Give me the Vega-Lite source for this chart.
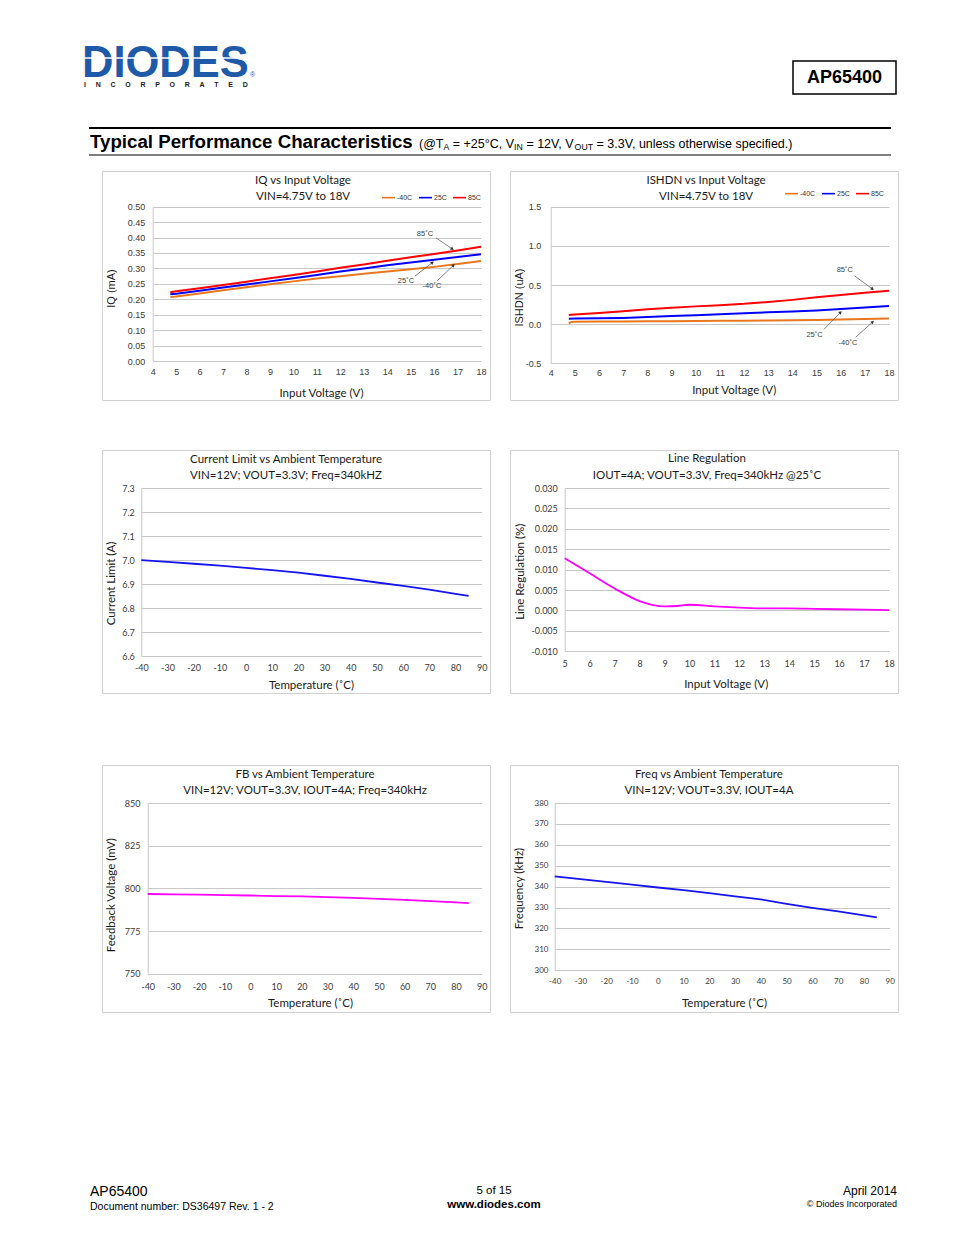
{
  "$schema": "https://vega.github.io/schema/vega-lite/v6.json",
  "padding": 0,
  "background": "white",
  "columns": 3,
  "spacing": {"row": 0, "column": 20},
  "bounds": "flush",
  "align": "each",
  "resolve": {"scale": {"color": "independent"}, "legend": {"color": "independent"}},
  "datasets": {"empty": []},
  "config": {
    "view": {"stroke": null},
    "font": "Lato",
    "locale": {"number": {"decimal": ".", "thousands": ",", "grouping": [3], "currency": ["$", ""], "minus": "-"}},
    "axis": {"domain": false, "ticks": false, "tickSize": 0, "grid": false, "labelColor": "#3a3a3a", "titleColor": "#1a1a1a", "labelFont": "Lato", "titleFont": "Lato", "titleFontWeight": "normal", "labelFontSize": 9, "titleFontSize": 11.5, "labelFlush": false, "labelOverlap": false, "labelBound": false, "gridColor": "#c8c8c8", "domainColor": "#c8c8c8", "titleBaseline": "middle", "titleAlign": "center"},
    "title": {"font": "Lato", "fontWeight": "normal", "fontSize": 11.5, "color": "#1a1a1a", "anchor": "middle", "frame": "group", "lineHeight": 15.5, "offset": -31},
    "legend": {"orient": "none", "direction": "horizontal", "title": null, "symbolType": "stroke", "symbolSize": 170, "symbolStrokeWidth": 1.6, "labelFont": "Liberation Sans", "labelFontSize": 7, "labelColor": "#333333", "labelOffset": 1, "columnPadding": 2, "padding": 0}
  },
  "concat": [
    {
      "width": 82,
      "height": 171,
      "layer": [
        {"data": {"values": [{"label": "DIODES"}]}, "mark": {"type": "text", "font": "Liberation Sans", "fontWeight": "bold", "fontSize": 43.5, "color": "#1e5aa8", "align": "left", "baseline": "alphabetic"}, "encoding": {"text": {"field": "label"}, "x": {"value": 82}, "y": {"value": 76.5}}},
        {"data": {"values": [{"label": "logo stripe"}]}, "mark": {"type": "rule", "stroke": "#ffffff", "strokeWidth": 1.3}, "encoding": {"x": {"value": 84}, "x2": {"value": 246}, "y": {"value": 58}}},
        {"data": {"values": [{"label": "I\u00a0\u00a0\u00a0\u00a0\u00a0N\u00a0\u00a0\u00a0\u00a0\u00a0C\u00a0\u00a0\u00a0\u00a0\u00a0O\u00a0\u00a0\u00a0\u00a0\u00a0R\u00a0\u00a0\u00a0\u00a0\u00a0P\u00a0\u00a0\u00a0\u00a0\u00a0O\u00a0\u00a0\u00a0\u00a0\u00a0R\u00a0\u00a0\u00a0\u00a0\u00a0A\u00a0\u00a0\u00a0\u00a0\u00a0T\u00a0\u00a0\u00a0\u00a0\u00a0E\u00a0\u00a0\u00a0\u00a0\u00a0D"}]}, "mark": {"type": "text", "font": "Liberation Sans", "fontWeight": "bold", "fontSize": 7, "color": "#1a1a1a", "align": "left", "baseline": "alphabetic"}, "encoding": {"text": {"field": "label"}, "x": {"value": 84}, "y": {"value": 86.5}}},
        {"data": {"values": [{"label": "®"}]}, "mark": {"type": "text", "font": "Liberation Sans", "fontSize": 7, "color": "#1e5aa8", "align": "left", "baseline": "alphabetic"}, "encoding": {"text": {"field": "label"}, "x": {"value": 250}, "y": {"value": 77}}},
        {"data": {"values": [{"label": "box"}]}, "mark": {"type": "rect", "fill": null, "stroke": "#000000", "strokeWidth": 1.5}, "encoding": {"x": {"value": 793}, "x2": {"value": 896}, "y": {"value": 61}, "y2": {"value": 94}}},
        {"data": {"values": [{"label": "AP65400"}]}, "mark": {"type": "text", "font": "Liberation Sans", "fontWeight": "bold", "fontSize": 18, "color": "#000000", "align": "center", "baseline": "middle"}, "encoding": {"text": {"field": "label"}, "x": {"value": 844.5}, "y": {"value": 78}}},
        {"data": {"values": [{"label": "top rule"}]}, "mark": {"type": "rule", "stroke": "#000000", "strokeWidth": 2}, "encoding": {"x": {"value": 89}, "x2": {"value": 891}, "y": {"value": 128}}},
        {"data": {"values": [{"label": "Typical Performance Characteristics"}]}, "mark": {"type": "text", "font": "Liberation Sans", "fontWeight": "bold", "fontSize": 18.7, "color": "#000000", "align": "left", "baseline": "alphabetic"}, "encoding": {"text": {"field": "label"}, "x": {"value": 90}, "y": {"value": 148}}},
        {"data": {"values": [{"label": "(@T"}]}, "mark": {"type": "text", "font": "Liberation Sans", "fontSize": 12.5, "color": "#000000", "align": "left", "baseline": "alphabetic"}, "encoding": {"text": {"field": "label"}, "x": {"value": 419}, "y": {"value": 148}}},
        {"data": {"values": [{"label": "A"}]}, "mark": {"type": "text", "font": "Liberation Sans", "fontSize": 8.75, "color": "#000000", "align": "left", "baseline": "alphabetic"}, "encoding": {"text": {"field": "label"}, "x": {"value": 443.5}, "y": {"value": 150}}},
        {"data": {"values": [{"label": "= +25°C, V"}]}, "mark": {"type": "text", "font": "Liberation Sans", "fontSize": 12.5, "color": "#000000", "align": "left", "baseline": "alphabetic"}, "encoding": {"text": {"field": "label"}, "x": {"value": 452.8}, "y": {"value": 148}}},
        {"data": {"values": [{"label": "IN"}]}, "mark": {"type": "text", "font": "Liberation Sans", "fontSize": 8.75, "color": "#000000", "align": "left", "baseline": "alphabetic"}, "encoding": {"text": {"field": "label"}, "x": {"value": 514.1}, "y": {"value": 150}}},
        {"data": {"values": [{"label": "= 12V, V"}]}, "mark": {"type": "text", "font": "Liberation Sans", "fontSize": 12.5, "color": "#000000", "align": "left", "baseline": "alphabetic"}, "encoding": {"text": {"field": "label"}, "x": {"value": 526.4}, "y": {"value": 148}}},
        {"data": {"values": [{"label": "OUT"}]}, "mark": {"type": "text", "font": "Liberation Sans", "fontSize": 8.75, "color": "#000000", "align": "left", "baseline": "alphabetic"}, "encoding": {"text": {"field": "label"}, "x": {"value": 574.6}, "y": {"value": 150}}},
        {"data": {"values": [{"label": "= 3.3V, unless otherwise specified.)"}]}, "mark": {"type": "text", "font": "Liberation Sans", "fontSize": 12.5, "color": "#000000", "align": "left", "baseline": "alphabetic"}, "encoding": {"text": {"field": "label"}, "x": {"value": 596.6}, "y": {"value": 148}}},
        {"data": {"values": [{"label": "bottom rule"}]}, "mark": {"type": "rule", "stroke": "#000000", "strokeWidth": 1}, "encoding": {"x": {"value": 89}, "x2": {"value": 891}, "y": {"value": 155}}}
      ]
    },
    {"width": 1, "height": 1, "data": {"name": "empty"}, "mark": {"type": "text"}, "encoding": {"text": {"field": "label"}}},
    {"width": 1, "height": 1, "data": {"name": "empty"}, "mark": {"type": "text"}, "encoding": {"text": {"field": "label"}}},

    {"width": 82, "height": 1, "data": {"name": "empty"}, "mark": {"type": "text"}, "encoding": {"text": {"field": "label"}}},
    {
      "width": 388,
      "height": 229,
      "view": {"stroke": "#d0d0d0", "fill": "white"},
      "title": {"text": ["IQ vs Input Voltage", "VIN=4.75V to 18V"], "dx": 7},
      "encoding": {
        "x": {"field": "v", "type": "quantitative", "scale": {"domain": [4, 18], "range": [50.7, 379], "nice": false, "zero": false},
          "axis": {"values": [4, 5, 6, 7, 8, 9, 10, 11, 12, 13, 14, 15, 16, 17, 18], "title": "Input Voltage (V)", "offset": -38, "labelFont": "Liberation Sans", "labelFontSize": 9, "labelPadding": 5.5, "titleX": 219, "titleY": 31}},
        "y": {"field": "iq", "type": "quantitative", "scale": {"domain": [0, 0.5], "range": [190, 35.7], "nice": false, "zero": false},
          "axis": {"values": [0, 0.05, 0.1, 0.15, 0.2, 0.25, 0.3, 0.35, 0.4, 0.45, 0.5], "format": ".2f", "title": "IQ (mA)", "offset": -50.7, "grid": true, "domain": true, "labelFont": "Liberation Sans", "labelFontSize": 9, "labelPadding": 8, "titleFont": "Liberation Sans", "titleFontSize": 11, "titleX": -41, "titleY": 117}}
      },
      "layer": [
        {
          "data": {"values": [
            {"t": "-40C", "v": 4.75, "iq": 0.207}, {"t": "-40C", "v": 5, "iq": 0.209}, {"t": "-40C", "v": 6, "iq": 0.219}, {"t": "-40C", "v": 7, "iq": 0.229}, {"t": "-40C", "v": 8, "iq": 0.239}, {"t": "-40C", "v": 9, "iq": 0.249}, {"t": "-40C", "v": 10, "iq": 0.258}, {"t": "-40C", "v": 11, "iq": 0.267}, {"t": "-40C", "v": 12, "iq": 0.275}, {"t": "-40C", "v": 13, "iq": 0.283}, {"t": "-40C", "v": 14, "iq": 0.290}, {"t": "-40C", "v": 15, "iq": 0.297}, {"t": "-40C", "v": 16, "iq": 0.305}, {"t": "-40C", "v": 17, "iq": 0.314}, {"t": "-40C", "v": 18, "iq": 0.324},
            {"t": "25C", "v": 4.75, "iq": 0.216}, {"t": "25C", "v": 5, "iq": 0.218}, {"t": "25C", "v": 6, "iq": 0.228}, {"t": "25C", "v": 7, "iq": 0.238}, {"t": "25C", "v": 8, "iq": 0.248}, {"t": "25C", "v": 9, "iq": 0.258}, {"t": "25C", "v": 10, "iq": 0.268}, {"t": "25C", "v": 11, "iq": 0.279}, {"t": "25C", "v": 12, "iq": 0.290}, {"t": "25C", "v": 13, "iq": 0.300}, {"t": "25C", "v": 14, "iq": 0.310}, {"t": "25C", "v": 15, "iq": 0.319}, {"t": "25C", "v": 16, "iq": 0.328}, {"t": "25C", "v": 17, "iq": 0.337}, {"t": "25C", "v": 18, "iq": 0.346},
            {"t": "85C", "v": 4.75, "iq": 0.223}, {"t": "85C", "v": 5, "iq": 0.226}, {"t": "85C", "v": 6, "iq": 0.236}, {"t": "85C", "v": 7, "iq": 0.246}, {"t": "85C", "v": 8, "iq": 0.257}, {"t": "85C", "v": 9, "iq": 0.268}, {"t": "85C", "v": 10, "iq": 0.279}, {"t": "85C", "v": 11, "iq": 0.290}, {"t": "85C", "v": 12, "iq": 0.302}, {"t": "85C", "v": 13, "iq": 0.313}, {"t": "85C", "v": 14, "iq": 0.325}, {"t": "85C", "v": 15, "iq": 0.336}, {"t": "85C", "v": 16, "iq": 0.347}, {"t": "85C", "v": 17, "iq": 0.358}, {"t": "85C", "v": 18, "iq": 0.370}
          ]},
          "mark": {"type": "line", "strokeWidth": 2},
          "encoding": {
            "color": {"field": "t", "type": "nominal", "scale": {"domain": ["-40C", "25C", "85C"], "range": ["#E8771E", "#0000FF", "#FF0000"]}, "legend": {"legendX": 279, "legendY": 19}}
          }
        },
        {
          "data": {"values": [{"v": 15.61, "iq": 0.412, "label": "85˚C"}, {"v": 14.80, "iq": 0.259, "label": "25˚C"}, {"v": 15.91, "iq": 0.243, "label": "-40˚C"}]},
          "mark": {"type": "text", "font": "Liberation Sans", "fontSize": 7.5, "color": "#404040", "align": "center", "baseline": "middle"},
          "encoding": {"text": {"field": "label"}}
        },
        {
          "data": {"values": [{"v": 16.08, "iq": 0.399, "v2": 16.76, "iq2": 0.364}, {"v": 15.18, "iq": 0.275, "v2": 15.91, "iq2": 0.318}, {"v": 16.12, "iq": 0.259, "v2": 16.81, "iq2": 0.309}]},
          "mark": {"type": "rule", "stroke": "#505050", "strokeWidth": 0.7},
          "encoding": {"x2": {"field": "v2"}, "y2": {"field": "iq2"}}
        },
        {
          "data": {"values": [{"v": 16.76, "iq": 0.364}]},
          "mark": {"type": "point", "shape": "triangle", "filled": true, "size": 14, "angle": 125, "color": "#303030", "opacity": 1}
        },
        {
          "data": {"values": [{"v": 15.91, "iq": 0.318}, {"v": 16.81, "iq": 0.309}]},
          "mark": {"type": "point", "shape": "triangle", "filled": true, "size": 14, "angle": 52, "color": "#303030", "opacity": 1}
        }
      ]
    },
    {
      "width": 388,
      "height": 229,
      "view": {"stroke": "#d0d0d0", "fill": "white"},
      "title": {"text": ["ISHDN vs Input Voltage", "VIN=4.75V to 18V"], "dx": 2},
      "encoding": {
        "x": {"field": "v", "type": "quantitative", "scale": {"domain": [4, 18], "range": [40.7, 379], "nice": false, "zero": false},
          "axis": {"values": [4, 5, 6, 7, 8, 9, 10, 11, 12, 13, 14, 15, 16, 17, 18], "title": "Input Voltage (V)", "offset": -36.7, "labelFont": "Liberation Sans", "labelFontSize": 9, "labelPadding": 5.5, "titleX": 223.7, "titleY": 27.4}},
        "y": {"field": "i", "type": "quantitative", "scale": {"domain": [-0.5, 1.5], "range": [192.3, 35.7], "nice": false, "zero": false},
          "axis": {"values": [-0.5, 0, 0.5, 1, 1.5], "format": ".1f", "title": "ISHDN (uA)", "offset": -40.7, "grid": true, "domain": true, "labelFont": "Liberation Sans", "labelFontSize": 9, "labelPadding": 10, "titleFont": "Liberation Sans", "titleFontSize": 11, "titleX": -31, "titleY": 126}}
      },
      "layer": [
        {
          "data": {"values": [
            {"t": "-40C", "v": 4.75, "i": 0.01}, {"t": "-40C", "v": 4.85, "i": 0.028}, {"t": "-40C", "v": 5, "i": 0.032}, {"t": "-40C", "v": 6, "i": 0.033}, {"t": "-40C", "v": 7, "i": 0.034}, {"t": "-40C", "v": 8, "i": 0.036}, {"t": "-40C", "v": 9, "i": 0.038}, {"t": "-40C", "v": 10, "i": 0.040}, {"t": "-40C", "v": 11, "i": 0.042}, {"t": "-40C", "v": 12, "i": 0.045}, {"t": "-40C", "v": 13, "i": 0.047}, {"t": "-40C", "v": 14, "i": 0.050}, {"t": "-40C", "v": 15, "i": 0.053}, {"t": "-40C", "v": 16, "i": 0.058}, {"t": "-40C", "v": 17, "i": 0.065}, {"t": "-40C", "v": 18, "i": 0.072},
            {"t": "25C", "v": 4.75, "i": 0.070}, {"t": "25C", "v": 5, "i": 0.072}, {"t": "25C", "v": 6, "i": 0.075}, {"t": "25C", "v": 7, "i": 0.080}, {"t": "25C", "v": 8, "i": 0.090}, {"t": "25C", "v": 9, "i": 0.103}, {"t": "25C", "v": 10, "i": 0.115}, {"t": "25C", "v": 11, "i": 0.127}, {"t": "25C", "v": 12, "i": 0.140}, {"t": "25C", "v": 13, "i": 0.152}, {"t": "25C", "v": 14, "i": 0.163}, {"t": "25C", "v": 15, "i": 0.175}, {"t": "25C", "v": 16, "i": 0.193}, {"t": "25C", "v": 17, "i": 0.212}, {"t": "25C", "v": 18, "i": 0.232},
            {"t": "85C", "v": 4.75, "i": 0.117}, {"t": "85C", "v": 5, "i": 0.122}, {"t": "85C", "v": 6, "i": 0.143}, {"t": "85C", "v": 7, "i": 0.165}, {"t": "85C", "v": 8, "i": 0.190}, {"t": "85C", "v": 9, "i": 0.210}, {"t": "85C", "v": 10, "i": 0.227}, {"t": "85C", "v": 11, "i": 0.242}, {"t": "85C", "v": 12, "i": 0.259}, {"t": "85C", "v": 13, "i": 0.283}, {"t": "85C", "v": 14, "i": 0.310}, {"t": "85C", "v": 15, "i": 0.343}, {"t": "85C", "v": 16, "i": 0.372}, {"t": "85C", "v": 17, "i": 0.400}, {"t": "85C", "v": 18, "i": 0.428}
          ]},
          "mark": {"type": "line", "strokeWidth": 2},
          "encoding": {
            "color": {"field": "t", "type": "nominal", "scale": {"domain": ["-40C", "25C", "85C"], "range": ["#E8771E", "#0000FF", "#FF0000"]}, "legend": {"legendX": 274, "legendY": 15}}
          }
        },
        {
          "data": {"values": [{"v": 16.17, "i": 0.692, "label": "85˚C"}, {"v": 14.92, "i": -0.139, "label": "25˚C"}, {"v": 16.30, "i": -0.245, "label": "-40˚C"}]},
          "mark": {"type": "text", "font": "Liberation Sans", "fontSize": 7.5, "color": "#404040", "align": "center", "baseline": "middle"},
          "encoding": {"text": {"field": "label"}}
        },
        {
          "data": {"values": [{"v": 16.58, "i": 0.615, "v2": 17.30, "i2": 0.453}, {"v": 15.31, "i": -0.066, "v2": 15.98, "i2": 0.146}, {"v": 16.62, "i": -0.168, "v2": 17.31, "i2": 0.024}]},
          "mark": {"type": "rule", "stroke": "#505050", "strokeWidth": 0.7},
          "encoding": {"x2": {"field": "v2"}, "y2": {"field": "i2"}}
        },
        {
          "data": {"values": [{"v": 17.30, "i": 0.453}]},
          "mark": {"type": "point", "shape": "triangle", "filled": true, "size": 14, "angle": 126, "color": "#303030", "opacity": 1}
        },
        {
          "data": {"values": [{"v": 15.98, "i": 0.146}, {"v": 17.31, "i": 0.024}]},
          "mark": {"type": "point", "shape": "triangle", "filled": true, "size": 14, "angle": 46, "color": "#303030", "opacity": 1}
        }
      ]
    },

    {"width": 82, "height": 50, "data": {"name": "empty"}, "mark": {"type": "text"}, "encoding": {"text": {"field": "label"}}},
    {"width": 1, "height": 1, "data": {"name": "empty"}, "mark": {"type": "text"}, "encoding": {"text": {"field": "label"}}},
    {"width": 1, "height": 1, "data": {"name": "empty"}, "mark": {"type": "text"}, "encoding": {"text": {"field": "label"}}},

    {"width": 82, "height": 1, "data": {"name": "empty"}, "mark": {"type": "text"}, "encoding": {"text": {"field": "label"}}},
    {
      "width": 388,
      "height": 243,
      "view": {"stroke": "#d0d0d0", "fill": "white"},
      "title": {"text": ["Current Limit vs Ambient Temperature", "VIN=12V; VOUT=3.3V; Freq=340kHZ"], "dx": -10},
      "data": {"values": [
        {"temp": -40, "a": 7.0}, {"temp": -30, "a": 6.993}, {"temp": -20, "a": 6.985}, {"temp": -10, "a": 6.977}, {"temp": 0, "a": 6.968}, {"temp": 10, "a": 6.958}, {"temp": 20, "a": 6.948}, {"temp": 30, "a": 6.935}, {"temp": 40, "a": 6.922}, {"temp": 50, "a": 6.907}, {"temp": 60, "a": 6.893}, {"temp": 70, "a": 6.877}, {"temp": 80, "a": 6.860}, {"temp": 85, "a": 6.851}
      ]},
      "mark": {"type": "line", "strokeWidth": 1.8, "color": "#1414F0"},
      "encoding": {
        "x": {"field": "temp", "type": "quantitative", "scale": {"domain": [-40, 90], "range": [39.3, 379.7], "nice": false, "zero": false},
          "axis": {"values": [-40, -30, -20, -10, 0, 10, 20, 30, 40, 50, 60, 70, 80, 90], "title": "Temperature (˚C)", "offset": -36.7, "labelPadding": 7.5, "titleX": 209, "titleY": 29}},
        "y": {"field": "a", "type": "quantitative", "scale": {"domain": [6.6, 7.3], "range": [206.3, 38], "nice": false, "zero": false},
          "axis": {"values": [6.6, 6.7, 6.8, 6.9, 7.0, 7.1, 7.2, 7.3], "format": ".1f", "title": "Current Limit (A)", "offset": -39.3, "grid": true, "domain": true, "labelPadding": 7, "titleX": -30.3, "titleY": 133}}
      }
    },
    {
      "width": 388,
      "height": 243,
      "view": {"stroke": "#d0d0d0", "fill": "white"},
      "title": {"text": ["Line Regulation", "IOUT=4A; VOUT=3.3V, Freq=340kHz @25˚C"], "dx": 3, "lineHeight": 17},
      "data": {"values": [
        {"v": 5, "lr": 0.0128}, {"v": 6, "lr": 0.0091}, {"v": 7, "lr": 0.0054}, {"v": 8, "lr": 0.0023}, {"v": 8.5, "lr": 0.0014}, {"v": 9, "lr": 0.0010}, {"v": 9.5, "lr": 0.0011}, {"v": 10, "lr": 0.0014}, {"v": 11, "lr": 0.0010}, {"v": 12, "lr": 0.0007}, {"v": 13, "lr": 0.0005}, {"v": 14, "lr": 0.0005}, {"v": 15, "lr": 0.0004}, {"v": 16, "lr": 0.0003}, {"v": 17, "lr": 0.0002}, {"v": 18, "lr": 0.0001}
      ]},
      "mark": {"type": "line", "strokeWidth": 1.8, "color": "#FF00FF", "interpolate": "monotone"},
      "encoding": {
        "x": {"field": "v", "type": "quantitative", "scale": {"domain": [5, 18], "range": [54.7, 379], "nice": false, "zero": false},
          "axis": {"values": [5, 6, 7, 8, 9, 10, 11, 12, 13, 14, 15, 16, 17, 18], "title": "Input Voltage (V)", "offset": -41.7, "labelPadding": 8.5, "titleX": 215.7, "titleY": 33.4}},
        "y": {"field": "lr", "type": "quantitative", "scale": {"domain": [-0.01, 0.03], "range": [201.3, 38], "nice": false, "zero": false},
          "axis": {"values": [-0.01, -0.005, 0, 0.005, 0.01, 0.015, 0.02, 0.025, 0.03], "format": ".3f", "title": "Line Regulation (%)", "offset": -54.7, "grid": true, "domain": true, "labelPadding": 7.4, "titleX": -44, "titleY": 121.3}}
      }
    },

    {"width": 82, "height": 72, "data": {"name": "empty"}, "mark": {"type": "text"}, "encoding": {"text": {"field": "label"}}},
    {"width": 1, "height": 1, "data": {"name": "empty"}, "mark": {"type": "text"}, "encoding": {"text": {"field": "label"}}},
    {"width": 1, "height": 1, "data": {"name": "empty"}, "mark": {"type": "text"}, "encoding": {"text": {"field": "label"}}},

    {"width": 82, "height": 1, "data": {"name": "empty"}, "mark": {"type": "text"}, "encoding": {"text": {"field": "label"}}},
    {
      "width": 388,
      "height": 247,
      "view": {"stroke": "#d0d0d0", "fill": "white"},
      "title": {"text": ["FB vs Ambient Temperature", "VIN=12V; VOUT=3.3V, IOUT=4A; Freq=340kHz"], "dx": 9},
      "data": {"values": [
        {"temp": -40, "mv": 796.7}, {"temp": -30, "mv": 796.5}, {"temp": -20, "mv": 796.3}, {"temp": -10, "mv": 796.0}, {"temp": 0, "mv": 795.8}, {"temp": 10, "mv": 795.5}, {"temp": 20, "mv": 795.3}, {"temp": 30, "mv": 794.9}, {"temp": 40, "mv": 794.4}, {"temp": 50, "mv": 793.8}, {"temp": 60, "mv": 793.2}, {"temp": 70, "mv": 792.5}, {"temp": 80, "mv": 791.8}, {"temp": 85, "mv": 791.4}
      ]},
      "mark": {"type": "line", "strokeWidth": 1.8, "color": "#FF00FF"},
      "encoding": {
        "x": {"field": "temp", "type": "quantitative", "scale": {"domain": [-40, 90], "range": [45.7, 379.7], "nice": false, "zero": false},
          "axis": {"values": [-40, -30, -20, -10, 0, 10, 20, 30, 40, 50, 60, 70, 80, 90], "title": "Temperature (˚C)", "offset": -38.3, "labelPadding": 8.5, "titleX": 208, "titleY": 29.3}},
        "y": {"field": "mv", "type": "quantitative", "scale": {"domain": [750, 850], "range": [208.7, 38], "nice": false, "zero": false},
          "axis": {"values": [750, 775, 800, 825, 850], "title": "Feedback Voltage (mV)", "offset": -45.7, "grid": true, "domain": true, "labelPadding": 7.7, "titleX": -36, "titleY": 129.7}}
      }
    },
    {
      "width": 388,
      "height": 247,
      "view": {"stroke": "#d0d0d0", "fill": "white"},
      "title": {"text": ["Freq vs Ambient Temperature", "VIN=12V; VOUT=3.3V, IOUT=4A"], "dx": 5},
      "data": {"values": [
        {"temp": -40, "f": 344.9}, {"temp": -30, "f": 343.6}, {"temp": -20, "f": 342.3}, {"temp": -10, "f": 341.0}, {"temp": 0, "f": 339.6}, {"temp": 10, "f": 338.3}, {"temp": 20, "f": 336.9}, {"temp": 30, "f": 335.4}, {"temp": 40, "f": 333.9}, {"temp": 50, "f": 331.8}, {"temp": 60, "f": 329.9}, {"temp": 70, "f": 328.2}, {"temp": 80, "f": 326.3}, {"temp": 85, "f": 325.3}
      ]},
      "mark": {"type": "line", "strokeWidth": 1.8, "color": "#1414F0"},
      "encoding": {
        "x": {"field": "temp", "type": "quantitative", "scale": {"domain": [-40, 90], "range": [44.7, 379.7], "nice": false, "zero": false},
          "axis": {"values": [-40, -30, -20, -10, 0, 10, 20, 30, 40, 50, 60, 70, 80, 90], "title": "Temperature (˚C)", "offset": -41.7, "labelFontSize": 8, "labelPadding": 7.5, "titleX": 214, "titleY": 32.7}},
        "y": {"field": "f", "type": "quantitative", "scale": {"domain": [300, 380], "range": [205.3, 38], "nice": false, "zero": false},
          "axis": {"values": [300, 310, 320, 330, 340, 350, 360, 370, 380], "title": "Frequency (kHz)", "offset": -44.7, "grid": true, "domain": true, "labelFontSize": 8, "labelPadding": 6.7, "titleX": -35.7, "titleY": 123}}
      }
    },

    {"width": 82, "height": 163, "data": {"name": "empty"}, "mark": {"type": "text"}, "encoding": {"text": {"field": "label"}}},
    {"width": 1, "height": 1, "data": {"name": "empty"}, "mark": {"type": "text"}, "encoding": {"text": {"field": "label"}}},
    {"width": 1, "height": 1, "data": {"name": "empty"}, "mark": {"type": "text"}, "encoding": {"text": {"field": "label"}}},

    {
      "width": 82,
      "height": 60,
      "layer": [
        {"data": {"values": [{"label": "AP65400"}]}, "mark": {"type": "text", "font": "Liberation Sans", "fontSize": 14, "color": "#000000", "align": "left", "baseline": "alphabetic"}, "encoding": {"text": {"field": "label"}, "x": {"value": 90}, "y": {"value": 21}}},
        {"data": {"values": [{"label": "Document number: DS36497 Rev. 1 - 2"}]}, "mark": {"type": "text", "font": "Liberation Sans", "fontSize": 10.5, "color": "#000000", "align": "left", "baseline": "alphabetic"}, "encoding": {"text": {"field": "label"}, "x": {"value": 90}, "y": {"value": 35}}},
        {"data": {"values": [{"label": "5 of 15"}]}, "mark": {"type": "text", "font": "Liberation Sans", "fontSize": 11.5, "color": "#000000", "align": "center", "baseline": "alphabetic"}, "encoding": {"text": {"field": "label"}, "x": {"value": 494}, "y": {"value": 19}}},
        {"data": {"values": [{"label": "www.diodes.com"}]}, "mark": {"type": "text", "font": "Liberation Sans", "fontWeight": "bold", "fontSize": 11.5, "color": "#000000", "align": "center", "baseline": "alphabetic"}, "encoding": {"text": {"field": "label"}, "x": {"value": 494}, "y": {"value": 33}}},
        {"data": {"values": [{"label": "April 2014"}]}, "mark": {"type": "text", "font": "Liberation Sans", "fontSize": 12, "color": "#000000", "align": "right", "baseline": "alphabetic"}, "encoding": {"text": {"field": "label"}, "x": {"value": 897}, "y": {"value": 20}}},
        {"data": {"values": [{"label": "© Diodes Incorporated"}]}, "mark": {"type": "text", "font": "Liberation Sans", "fontSize": 9, "color": "#000000", "align": "right", "baseline": "alphabetic"}, "encoding": {"text": {"field": "label"}, "x": {"value": 897}, "y": {"value": 32}}}
      ]
    },
    {"width": 1, "height": 1, "data": {"name": "empty"}, "mark": {"type": "text"}, "encoding": {"text": {"field": "label"}}},
    {"width": 1, "height": 1, "data": {"name": "empty"}, "mark": {"type": "text"}, "encoding": {"text": {"field": "label"}}}
  ]
}
